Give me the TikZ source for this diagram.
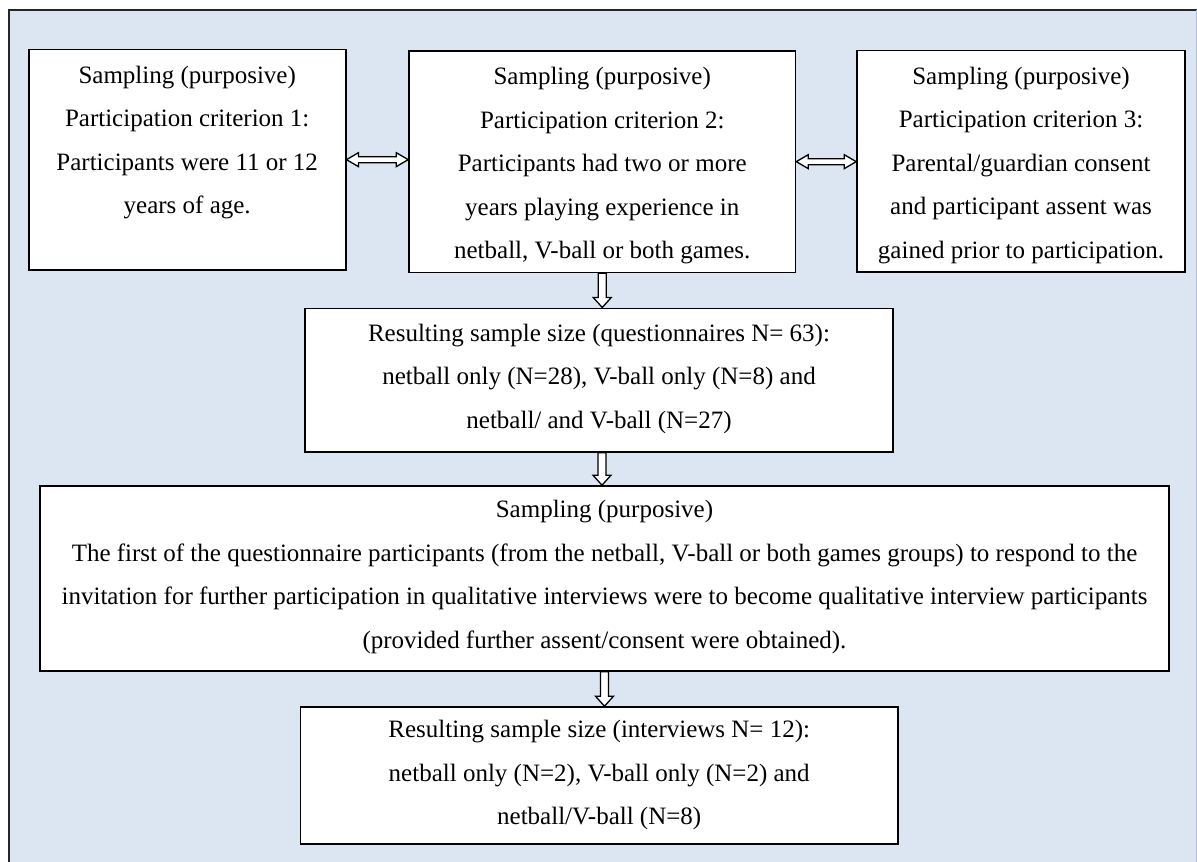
\documentclass[tikz,border=0pt]{standalone}
\usepackage{fontspec}
\setmainfont{Liberation Serif}
\usetikzlibrary{calc}
\definecolor{bgblue}{HTML}{DCE6F2}
\definecolor{edgeblue}{HTML}{AFC0D6}
\newcommand\blkdown[2]{%
  \draw[blk] ($(#1)+(-4,0)$) -- ($(#1)+(4,0)$) -- ($(#2)+(4,-10)$) -- ($(#2)+(9,-10)$) -- (#2)
    -- ($(#2)+(-9,-10)$) -- ($(#2)+(-4,-10)$) -- cycle;}
\newcommand\blkboth[2]{%
  \draw[blk] (#1) -- ($(#1)+(12,-7)$) -- ($(#1)+(12,-3)$) -- ($(#2)+(-12,-3)$) -- ($(#2)+(-12,-7)$) -- (#2)
    -- ($(#2)+(-12,7)$) -- ($(#2)+(-12,3)$) -- ($(#1)+(12,3)$) -- ($(#1)+(12,7)$) -- cycle;}
\begin{document}
\begin{tikzpicture}[x=1pt,y=-1pt,
  box/.style={draw=black, fill=white, line width=1.6pt, rectangle, inner sep=0pt},
  txt/.style={align=center, inner sep=0pt, anchor=north, font=\fontsize{25}{43.5}\selectfont},
  blk/.style={draw=black, fill=white, line width=1.3pt, line join=miter}]
\useasboundingbox (0,0) rectangle (1197,862);
% background panel
\fill[bgblue] (9,10) rectangle (1197,862);
\draw[line width=1.6pt, black!85] (9,862) -- (9,10) -- (1197,10);
\draw[line width=1pt, edgeblue] (1196,10) -- (1196,862);
% boxes
\node[box, minimum width=317pt, minimum height=220.7pt] (b1) at (187.2,159.65) {};
\node[box, minimum width=386.5pt, minimum height=221.3pt] (b2) at (602.25,161.65) {};
\node[box, minimum width=328pt, minimum height=221.5pt] (b3) at (1021,161.25) {};
\node[box, minimum width=588pt, minimum height=143.7pt] (b4) at (599,380.15) {};
\node[box, minimum width=1129pt, minimum height=185pt] (b5) at (604.5,578.5) {};
\node[box, minimum width=597.6pt, minimum height=137pt] (b6) at (599.2,775.5) {};
% texts
\node[txt] (t1) at ($(b1.north)+(0,17)$) {Sampling (purposive)\\Participation criterion 1:\\Participants were 11 or 12\\years of age.};
\node[txt] (t2) at ($(b2.north)+(0,17)$) {Sampling (purposive)\\Participation criterion 2:\\Participants had two or more\\years playing experience in\\netball, V-ball or both games.};
\node[txt] (t3) at ($(b3.north)+(0,17)$) {Sampling (purposive)\\Participation criterion 3:\\Parental/guardian consent\\and participant assent was\\gained prior to participation.};
\node[txt] (t4) at ($(b4.north)+(0,16)$) {Resulting sample size (questionnaires N= 63):\\netball only (N=28), V-ball only (N=8) and\\netball/ and V-ball (N=27)};
\node[txt] (t5) at ($(b5.north)+(0,15)$) {Sampling (purposive)\\The first of the questionnaire participants (from the netball, V-ball or both games groups) to respond to the\\invitation for further participation in qualitative interviews were to become qualitative interview participants\\(provided further assent/consent were obtained).};
\node[txt] (t6) at ($(b6.north)+(0,14)$) {Resulting sample size (interviews N= 12):\\netball only (N=2), V-ball only (N=2) and\\netball/V-ball (N=8)};
% connectors
\coordinate (h1s) at (b1.east);
\coordinate (h1e) at (b2.west |- b1.east);
\blkboth{h1s}{h1e}
\coordinate (h2s) at (b2.east);
\coordinate (h2e) at (b3.west |- b2.east);
\blkboth{h2s}{h2e}
\coordinate (d1s) at (b2.south);
\coordinate (d1e) at (b2.south |- b4.north);
\blkdown{d1s}{d1e}
\coordinate (d2s) at ([xshift=3pt]b4.south);
\coordinate (d2e) at (d2s |- b5.north);
\blkdown{d2s}{d2e}
\coordinate (d3s) at (b5.south);
\coordinate (d3e) at (b5.south |- b6.north);
\blkdown{d3s}{d3e}
\end{tikzpicture}
\end{document}
